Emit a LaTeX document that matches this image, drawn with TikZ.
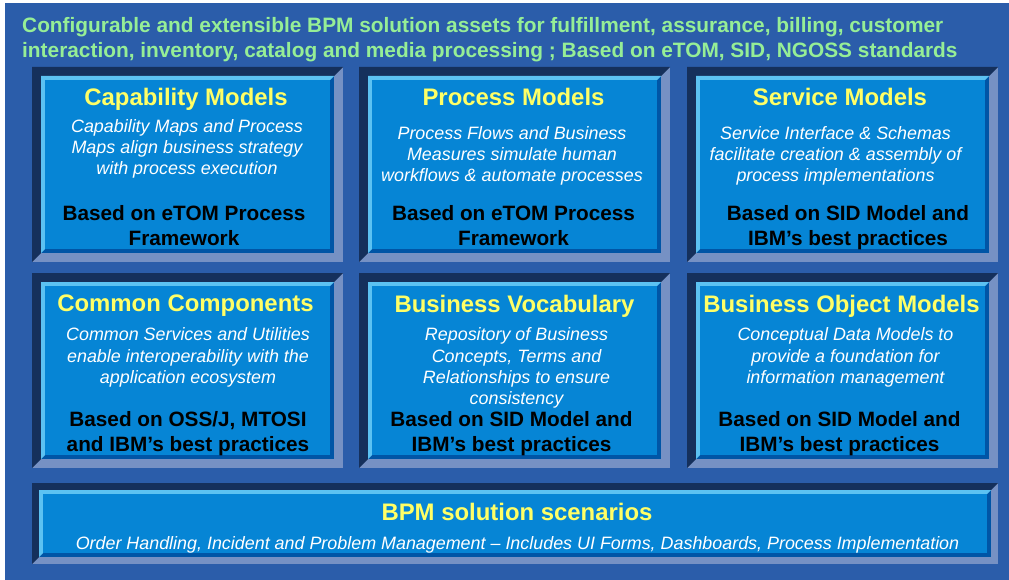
\documentclass[tikz,border=0pt]{standalone}
\usepackage{fontspec}
\setmainfont{Liberation Sans}
\definecolor{panel}{HTML}{2B5DAA}
\definecolor{frdark}{HTML}{15305C}
\definecolor{frlight}{HTML}{7691C4}
\definecolor{inlight}{HTML}{5CC2F2}
\definecolor{indark}{HTML}{0055A6}
\definecolor{face}{HTML}{0685D5}
\definecolor{hdrgreen}{HTML}{96EE96}
\definecolor{ttlyellow}{HTML}{FFFF66}
\newcommand\mybevel[5]{%
 \fill[frlight] (#1,#2) rectangle (#3,#4);
 \fill[frdark] (#1,#2) -- (#3,#2) -- ({#3-#5},{#2+#5}) -- ({#1+#5},{#2+#5}) -- ({#1+#5},{#4-#5}) -- (#1,#4) -- cycle;
 \fill[indark] ({#1+#5},{#2+#5}) rectangle ({#3-#5},{#4-#5});
 \fill[inlight] ({#1+#5},{#2+#5}) -- ({#3-#5},{#2+#5}) -- ({#3-#5-4},{#2+#5+4}) -- ({#1+#5+4},{#2+#5+4}) -- ({#1+#5+4},{#4-#5-4}) -- ({#1+#5},{#4-#5}) -- cycle;
 \fill[face] ({#1+#5+4},{#2+#5+4}) rectangle ({#3-#5-4},{#4-#5-4});
}
\begin{document}
\begin{tikzpicture}[x=1pt,y=-1pt,
  ttl/.style={anchor=north, inner sep=0pt, align=center, text=ttlyellow, font=\bfseries\fontsize{23.9}{28}\selectfont},
  dsc/.style={anchor=north, inner sep=0pt, align=center, text=white, font=\itshape\fontsize{17.9}{21.4}\selectfont},
  bas/.style={anchor=north, inner sep=0pt, align=center, text=black, font=\bfseries\fontsize{20.75}{25}\selectfont},
  hdr/.style={anchor=north west, inner sep=0pt, align=left, text=hdrgreen, font=\bfseries\fontsize{20.85}{25}\selectfont}]
\useasboundingbox (0,0) rectangle (1009,580);
\fill[white] (0,0) rectangle (1009,580);
\fill[panel] (5,3) rectangle (1009,580);
% boxes
\mybevel{32}{67}{343}{262}{9}
\mybevel{359}{67}{670}{262}{9}
\mybevel{687}{67}{998}{262}{9}
\mybevel{32}{273}{343}{468}{9}
\mybevel{359}{273}{670}{468}{9}
\mybevel{687}{273}{998}{468}{9}
\mybevel{32}{483}{998}{564}{7}
% header
\node[hdr] (hdr) at (22,16.8) {Configurable and extensible BPM solution assets for fulfillment, assurance, billing, customer\\interaction, inventory, catalog and media processing ; Based on eTOM, SID, NGOSS standards};
% row 1
\node[ttl] (t1) at (186,87.6) {Capability Models};
\node[dsc] (d1) at (187,119) {Capability Maps and Process\\Maps align business strategy\\with process execution};
\node[bas] (b1) at (184,205) {Based on eTOM Process\\Framework};
\node[ttl] (t2) at (513.5,87.6) {Process Models};
\node[dsc] (d2) at (512,126) {Process Flows and Business\\Measures simulate human\\workflows \& automate processes};
\node[bas] (b2) at (513.5,205) {Based on eTOM Process\\Framework};
\node[ttl] (t3) at (840,87.6) {Service Models};
\node[dsc] (d3) at (835.5,126) {Service Interface \& Schemas\\facilitate creation \& assembly of\\process implementations};
\node[bas] (b3) at (848,205) {Based on SID Model and\\IBM’s best practices};
% row 2
\node[ttl] (t4) at (185.5,294.6) {Common Components};
\node[dsc] (d4) at (188,327.5) {Common Services and Utilities\\enable interoperability with the\\application ecosystem};
\node[bas] (b4) at (188,411) {Based on OSS/J, MTOSI\\and IBM’s best practices};
\node[ttl] (t5) at (514.5,294.6) {Business Vocabulary};
\node[dsc] (d5) at (516.5,327.5) {Repository of Business\\Concepts, Terms and\\Relationships to ensure\\consistency};
\node[bas] (b5) at (511.5,411) {Based on SID Model and\\IBM’s best practices};
\node[ttl] (t6) at (841.5,294.6) {Business Object Models};
\node[dsc] (d6) at (845.5,327.5) {Conceptual Data Models to\\provide a foundation for\\information management};
\node[bas] (b6) at (839.5,411) {Based on SID Model and\\IBM’s best practices};
% bottom
\node[ttl] (t7) at (517,502.6) {BPM solution scenarios};
\node[dsc] (d7) at (517.5,536) {Order Handling, Incident and Problem Management – Includes UI Forms, Dashboards, Process Implementation};
\end{tikzpicture}
\end{document}
